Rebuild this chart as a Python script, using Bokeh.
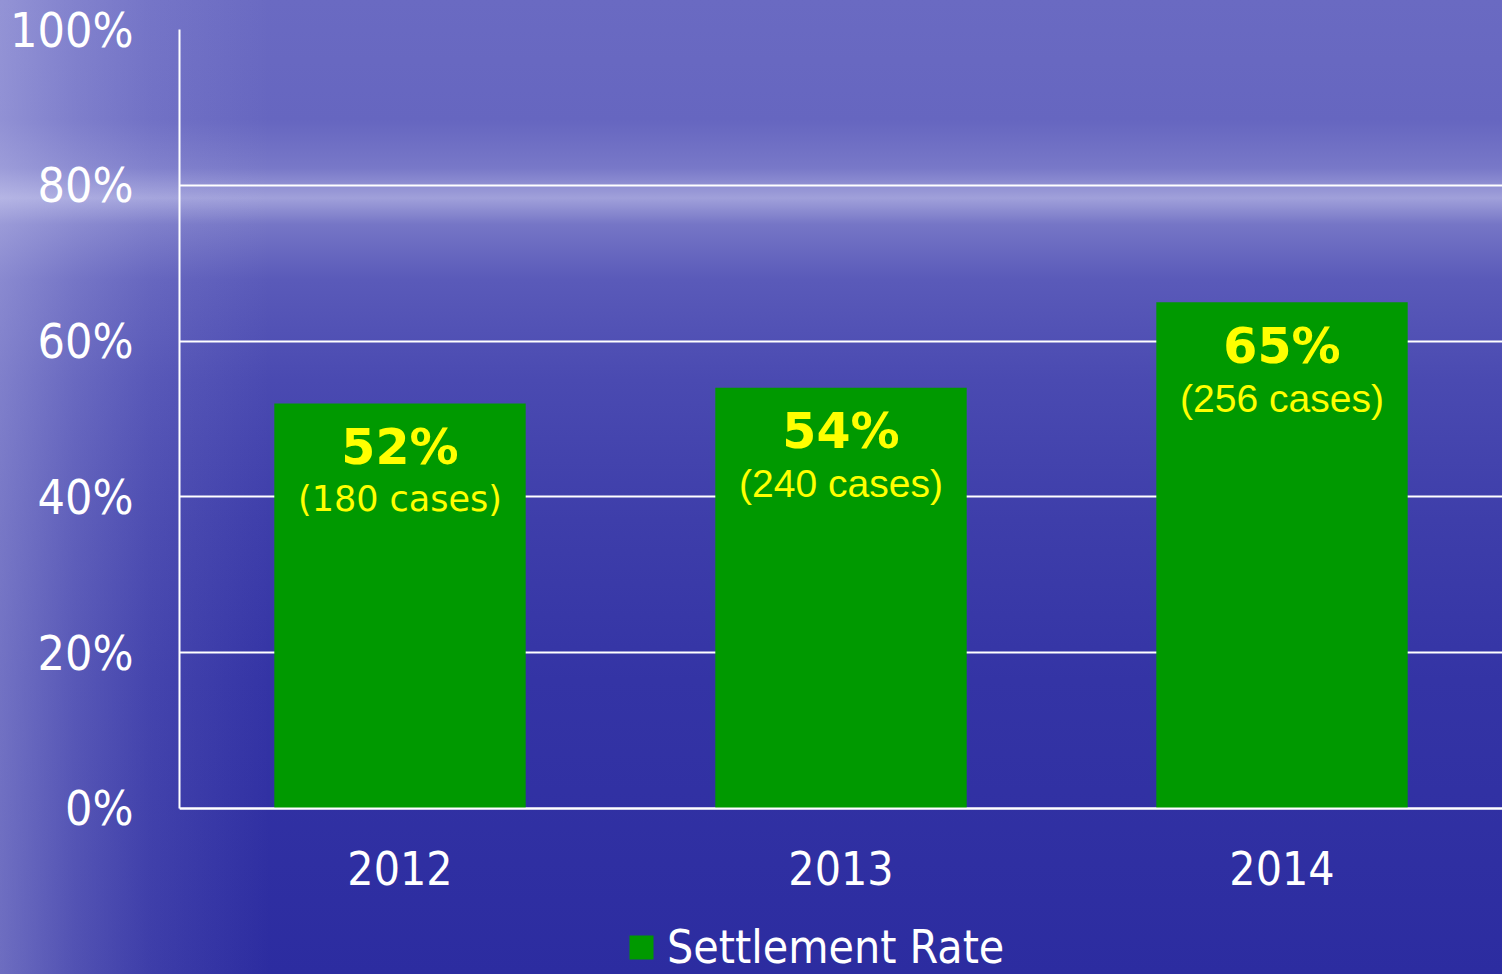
from bokeh.plotting import figure
from bokeh.models import FactorRange, Range1d, ColumnDataSource, FixedTicker
from bokeh.core.properties import value
from bokeh.embed import file_html
from bokeh.resources import INLINE

# ---- data ----
years = ["2012", "2013", "2014"]
rates = [52, 54, 65]
cases = [180, 240, 256]
y_ticks = [0, 20, 40, 60, 80, 100]
y_tick_labels = ["0%", "20%", "40%", "60%", "80%", "100%"]
series_name = "Settlement Rate"

# ---- styles ----
sub_fonts = ["DejaVu Sans", "Liberation Sans", "Liberation Sans"]
sub_sizes = ["35px", "39px", "39px"]
AXIS_FONT = "DejaVu Sans Condensed"

source = ColumnDataSource(dict(
    year=years,
    rate=rates,
    pct=[f"{r}%" for r in rates],
    sub=[f"({c} cases)" for c in cases],
    sub_font=sub_fonts,
    sub_size=sub_sizes,
))

# frame runs to the bottom edge; value 0 sits 166px above it
p = figure(
    x_range=FactorRange(*years),
    y_range=Range1d(-21.31, 100),
    width=1502, height=974,
    output_backend="svg",
    toolbar_location=None,
    min_border_left=179, min_border_right=0,
    min_border_top=29, min_border_bottom=0,
)
p.styles = {
    "background": (
        "linear-gradient(to right, rgba(215,215,245,0.38) 0%, rgba(215,215,245,0.22) 5%, "
        "rgba(215,215,245,0.10) 10%, rgba(215,215,245,0) 18%),"
        "linear-gradient(to bottom, #6a6ac2 0px, #6666c0 120px, #7878c8 168px, #a0a0da 198px, #7676c6 224px, "
        "#5a5ab9 280px, #4a4ab1 380px, #3e3eaa 520px, #3434a5 680px, #2c2ca0 974px)"
    )
}
p.background_fill_alpha = 0
p.border_fill_alpha = 0
p.outline_line_color = None

p.vbar(x="year", top="rate", bottom=0, width=0.57, source=source,
       fill_color="#009900", line_color=None, legend_label=series_name)

p.text(x="year", y="rate", text="pct", source=source,
       text_align="center", text_baseline="alphabetic", y_offset=44,
       text_font=value("DejaVu Sans"), text_font_style="bold",
       text_font_size="49px", text_color="#ffff00")
p.text(x="year", y="rate", text="sub", source=source,
       text_align="center", text_baseline="alphabetic", y_offset=96,
       text_font="sub_font", text_font_size="sub_size", text_color="#ffff00")

# axes
p.yaxis.ticker = FixedTicker(ticks=y_ticks)
p.yaxis.major_label_overrides = dict(zip(y_ticks, y_tick_labels))
p.yaxis.bounds = (0, 100)
p.xaxis.fixed_location = 0
for ax in (p.xaxis, p.yaxis):
    ax.axis_line_color = "white"
    ax.axis_line_width = 2
    ax.major_tick_line_color = None
    ax.minor_tick_line_color = None
    ax.major_label_text_color = "white"
    ax.major_label_text_font = AXIS_FONT
p.xaxis.major_label_text_font_size = "46px"
p.yaxis.major_label_text_font_size = "48px"
p.yaxis.major_label_standoff = 40
p.xaxis.major_label_standoff = 37

p.xgrid.grid_line_color = None
p.ygrid.grid_line_color = "white"
p.ygrid.grid_line_width = 2

# legend
lg = p.legend[0]
lg.location = (447, 0)
lg.orientation = "horizontal"
lg.background_fill_alpha = 0
lg.border_line_color = None
lg.padding = 0
lg.margin = 0
lg.glyph_width = 30
lg.glyph_height = 30
lg.label_standoff = 11
lg.label_text_color = "white"
lg.label_text_font = AXIS_FONT
lg.label_text_font_size = "46px"

open("out.html", "w").write(file_html(p, INLINE))
